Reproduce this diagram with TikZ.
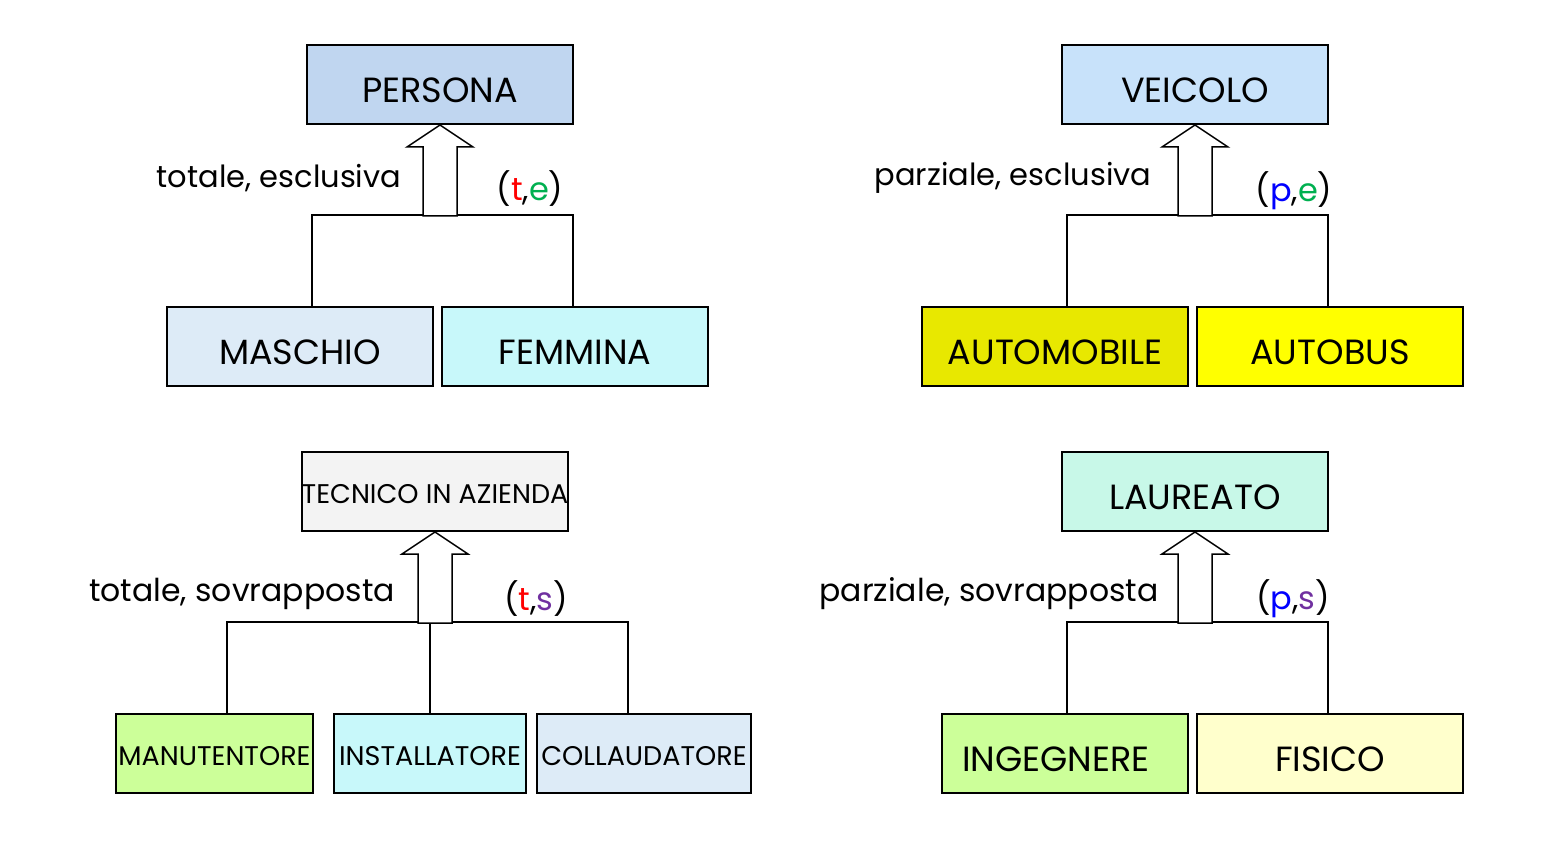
\documentclass[tikz,border=0pt]{standalone}
\usepackage{fontspec}
\setmainfont{Poppins}
\usetikzlibrary{calc}
\definecolor{cPersona}{HTML}{C0D6F0}
\definecolor{cMaschio}{HTML}{DDEBF7}
\definecolor{cFemmina}{HTML}{C8F8FA}
\definecolor{cVeicolo}{HTML}{C8E2FA}
\definecolor{cAuto}{HTML}{E8E800}
\definecolor{cBus}{HTML}{FFFF00}
\definecolor{cTecnico}{HTML}{F3F3F3}
\definecolor{cGreen}{HTML}{CCFF99}
\definecolor{cLaureato}{HTML}{C8F8E8}
\definecolor{cFisico}{HTML}{FFFFCC}
\definecolor{tRed}{HTML}{FF0000}
\definecolor{tGreen}{HTML}{00B050}
\definecolor{tBlue}{HTML}{0000FF}
\definecolor{tPurple}{HTML}{7030A0}
\tikzset{
  entbox/.style={draw=black, line width=2pt, minimum height=79pt, inner sep=0pt,
    font=\fontsize{35}{35}\selectfont, text height=36pt, text depth=0pt},
  smallbox/.style={entbox, font=\fontsize{27}{27}\selectfont, text height=24pt, text depth=0pt},
  conn/.style={draw=black, line width=1.5pt},
  isa/.style={draw=black, fill=white, line width=1.5pt, line join=miter},
  lbl/.style={inner sep=0pt, font=\fontsize{30.5}{30.5}\selectfont},
  lblw/.style={inner sep=0pt, font=\fontsize{31.5}{31.5}\selectfont},
  code/.style={inner sep=0pt, font=\fontsize{32}{32}\selectfont},
}
\begin{document}
\begin{tikzpicture}[x=1pt,y=-1pt]
\useasboundingbox (0,0) rectangle (1553,850);
% ---------- PERSONA ----------
\node[entbox, fill=cPersona, minimum width=266pt] (persona) at (440,84.5) {PERSONA};
\node[entbox, fill=cMaschio, minimum width=266pt] (maschio) at (300,346.5) {MASCHIO};
\node[entbox, fill=cFemmina, minimum width=266pt] (femmina) at (575,346.5) {FEMMINA};
\coordinate (j1l) at (312,215);
\coordinate (j1r) at (573,215);
\draw[conn] (j1l |- maschio.north) -- (j1l) -- (j1r) -- (j1r |- femmina.north);
\draw[isa] (persona.south) -- ++(33,22) -- ++(-16,0) -- ++(0,69) -- ++(-34,0) -- ++(0,-69) -- ++(-16,0) -- cycle;
\node[lbl] (l1) at (279,178) {totale, esclusiva};
\node[code] (c1) at (530,189) {(\textcolor{tRed}{t},\textcolor{tGreen}{e})};
% ---------- VEICOLO ----------
\node[entbox, fill=cVeicolo, minimum width=266pt] (veicolo) at (1195,84.5) {VEICOLO};
\node[entbox, fill=cAuto, minimum width=266pt] (automobile) at (1055,346.5) {AUTOMOBILE};
\node[entbox, fill=cBus, minimum width=266pt] (autobus) at (1330,346.5) {AUTOBUS};
\coordinate (j2l) at (1067,215);
\coordinate (j2r) at (1328,215);
\draw[conn] (j2l |- automobile.north) -- (j2l) -- (j2r) -- (j2r |- autobus.north);
\draw[isa] (veicolo.south) -- ++(33,22) -- ++(-16,0) -- ++(0,69) -- ++(-34,0) -- ++(0,-69) -- ++(-16,0) -- cycle;
\node[lbl] (l2) at (1013,178) {parziale, esclusiva};
\node[code] (c2) at (1294,191) {(\textcolor{tBlue}{p},\textcolor{tGreen}{e})};
% ---------- TECNICO ----------
\node[smallbox, fill=cTecnico, minimum width=266pt] (tecnico) at (435,491.5) {TECNICO IN AZIENDA};
\node[smallbox, fill=cGreen, minimum width=197pt] (manut) at (214.5,753) {MANUTENTORE};
\node[smallbox, fill=cFemmina, minimum width=192pt] (install) at (430,753) {INSTALLATORE};
\node[smallbox, fill=cMaschio, minimum width=214pt] (collaud) at (644,753) {COLLAUDATORE};
\coordinate (j3l) at (227,622);
\coordinate (j3m) at (430,622);
\coordinate (j3r) at (628,622);
\draw[conn] (j3l |- manut.north) -- (j3l) -- (j3r) -- (j3r |- collaud.north);
\draw[conn] (j3m) -- (j3m |- install.north);
\draw[isa] (tecnico.south) -- ++(33,22) -- ++(-16,0) -- ++(0,69) -- ++(-34,0) -- ++(0,-69) -- ++(-16,0) -- cycle;
\node[lblw] (l3) at (242,594) {totale, sovrapposta};
\node[code] (c3) at (536,599) {(\textcolor{tRed}{t},\textcolor{tPurple}{s})};
% ---------- LAUREATO ----------
\node[entbox, fill=cLaureato, minimum width=266pt] (laureato) at (1195,491.5) {LAUREATO};
\node[entbox, fill=cGreen, minimum width=246pt] (ingegnere) at (1065,753) {INGEGNERE\kern18pt};
\node[entbox, fill=cFisico, minimum width=266pt] (fisico) at (1330,753) {FISICO};
\coordinate (j4l) at (1067,622);
\coordinate (j4r) at (1328,622);
\draw[conn] (j4l |- ingegnere.north) -- (j4l) -- (j4r) -- (j4r |- fisico.north);
\draw[isa] (laureato.south) -- ++(33,22) -- ++(-16,0) -- ++(0,69) -- ++(-34,0) -- ++(0,-69) -- ++(-16,0) -- cycle;
\node[lblw] (l4) at (989,594) {parziale, sovrapposta};
\node[code] (c4) at (1293,599) {(\textcolor{tBlue}{p},\textcolor{tPurple}{s})};
\end{tikzpicture}
\end{document}
